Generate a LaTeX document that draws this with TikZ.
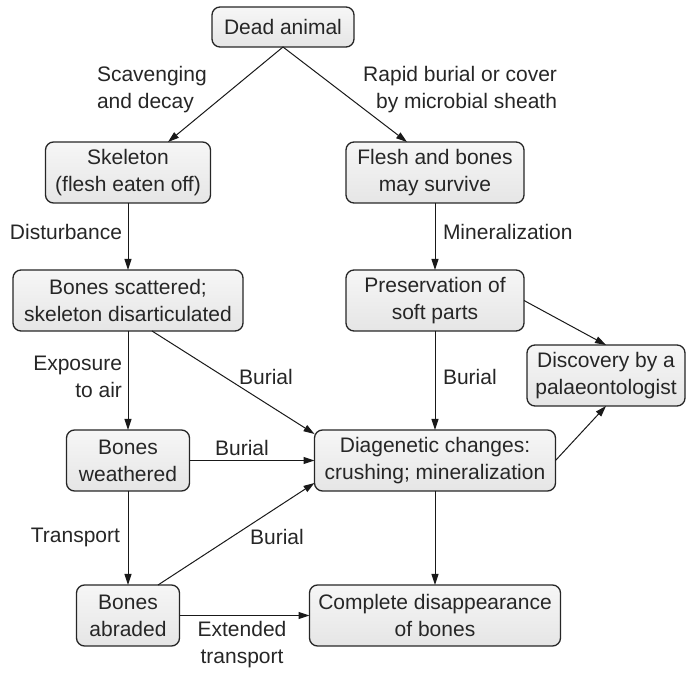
\documentclass[tikz,border=0pt]{standalone}
\usepackage{fontspec}
\setmainfont{Liberation Sans}
\usetikzlibrary{arrows.meta, positioning}

\begin{document}
\begin{tikzpicture}[x=1pt, y=1pt, node distance=67pt,
    every node/.style={font=\fontsize{21}{27}\selectfont, text=black!85, align=center, outer sep=0pt},
    box/.style={rectangle, draw=black!85, line width=1.3pt, rounded corners=8pt, top color=gray!7, bottom color=gray!20, minimum height=61pt, inner sep=3pt},
    lbl/.style={inner sep=0pt},
    arr/.style={arrows = -{Triangle[length=11pt, width=7pt]}, line width=1pt, draw=black!90}]
    \useasboundingbox (0,0) rectangle (688,672);

    \node (dead) [box, minimum width=142pt, minimum height=40pt] at (283,645) {Dead animal};
    \node (skel) [box, minimum width=165pt, below=95pt of dead, xshift=-155pt] {Skeleton\\(flesh eaten off)};
    \node (flesh) [box, minimum width=178pt, below=95pt of dead, xshift=152pt] {Flesh and bones\\may survive};
    \node (scat) [box, minimum width=230pt, below=of skel] {Bones scattered;\\skeleton disarticulated};
    \node (pres) [box, minimum width=178pt, below=of flesh] {Preservation of\\soft parts};
    \node (disc) [box, minimum width=158pt, right=3pt of pres, yshift=-75pt] {Discovery by a\\palaeontologist};
    \node (weath) [box, minimum width=123pt, below=99pt of scat] {Bones\\weathered};
    \node (diag) [box, minimum width=241pt, below=99pt of pres] {Diagenetic changes:\\crushing; mineralization};
    \node (abr) [box, minimum width=103pt, below=94pt of weath] {Bones\\abraded};
    \node (comp) [box, minimum width=251pt, below=94pt of diag] {Complete disappearance\\of bones};

    % edge labels
    \node (lScav) [lbl, anchor=west, align=left] at (97,582) {Scavenging\\and decay};
    \node (lRapid) [lbl, anchor=east, align=right] at (557,582) {Rapid burial or cover\\by microbial sheath};
    \node (lDist) [lbl, anchor=east] at (122,440) {Disturbance};
    \node (lMin) [lbl, anchor=west] at (443,440) {Mineralization};
    \node (lExp) [lbl, anchor=east, align=right] at (122,295) {Exposure\\to air};
    \node (lBurA) [lbl] at (266,295) {Burial};
    \node (lBurB) [lbl, anchor=west] at (443,295) {Burial};
    \node (lBurC) [lbl] at (242,224) {Burial};
    \node (lTrans) [lbl, anchor=east] at (120,135) {Transport};
    \node (lBurD) [lbl] at (277,135) {Burial};
    \node (lExt) [lbl] at (242,27) {Extended\\transport};

    \draw [arr] (dead.south) -- ([xshift=40pt]skel.north);
    \draw [arr] (dead.south) -- ([xshift=-28pt]flesh.north);
    \draw [arr] (skel) -- (scat);
    \draw [arr] (flesh) -- (pres);
    \draw [arr] ([xshift=24pt]scat.south) -- ([yshift=-4pt]diag.north west);
    \draw [arr] (pres.east) -- (disc.north);
    \draw [arr] (pres) -- (diag);
    \draw [arr] (scat) -- (weath);
    \draw [arr] (weath) -- (diag);
    \draw [arr] (weath) -- (abr);
    \draw [arr] ([xshift=30pt]abr.north) -- ([yshift=8pt]diag.south west);
    \draw [arr] (abr) -- (comp);
    \draw [arr] (diag) -- (comp);
    \draw [arr] (diag.east) -- (disc.south);
\end{tikzpicture}
\end{document}
